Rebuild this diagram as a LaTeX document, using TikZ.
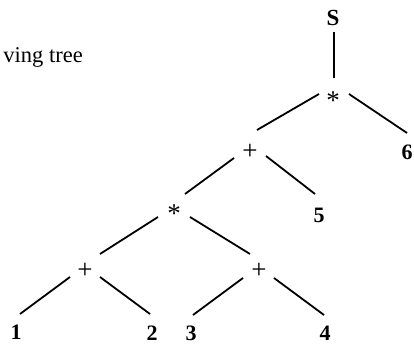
\documentclass[tikz,border=0pt]{standalone}
\usepackage{fontspec}
\setmainfont{Liberation Serif}
\usetikzlibrary{calc}
\tikzset{
  num/.style={inner sep=0pt, font=\fontsize{22}{25}\selectfont\bfseries},
  sym/.style={inner sep=0pt, font=\fontsize{27}{30}\selectfont},
  edge/.style={line width=1.8pt, line cap=butt},
}
\begin{document}
\begin{tikzpicture}[x=1pt,y=1pt]
\useasboundingbox (0,0) rectangle (414,345);
% caption fragment
\node[anchor=base east, inner sep=0pt, font=\fontsize{22.5}{26}\selectfont] (cap) at (83,282) {ving tree};
% nodes
\node[num, font=\fontsize{23}{26}\selectfont\bfseries] (S) at (333,327) {S};
\node[sym] (star1) at (333,244.5) {*};
\node[num] (six) at (407,193) {6};
\node[sym] (plus1) at (250,193) {+};
\node[num] (five) at (319,130) {5};
\node[sym] (star2) at (174,131.5) {*};
\node[sym] (plus2) at (85,74) {+};
\node[sym] (plus3) at (259,74) {+};
\node[num] (one) at (16,13) {1};
\node[num] (two) at (152,12) {2};
\node[num] (three) at (191,12) {3};
\node[num] (four) at (325,12) {4};
% connectors
\draw[edge] ($(S)+(1,-14)$) -- ($(star1)+(1,22.5)$);
\draw[edge] ($(star1)+(-14,6.5)$) -- ($(plus1)+(7,22)$);
\draw[edge] ($(star1)+(16,6.5)$) -- ($(six)+(0,19)$);
\draw[edge] ($(plus1)+(-16,-6)$) -- ($(star2)+(11,19.5)$);
\draw[edge] ($(plus1)+(16,-4)$) -- ($(five)+(-4,21)$);
\draw[edge] ($(star2)+(-16,-3.5)$) -- ($(plus2)+(15,17)$);
\draw[edge] ($(star2)+(16,-3.5)$) -- ($(plus3)+(-9,17)$);
\draw[edge] ($(plus2)+(-15,-6)$) -- ($(one)+(4,18)$);
\draw[edge] ($(plus2)+(15,-6)$) -- ($(two)+(-2,19)$);
\draw[edge] ($(plus3)+(-16,-7)$) -- ($(three)+(2,18)$);
\draw[edge] ($(plus3)+(15,-7)$) -- ($(four)+(-1,18)$);
\end{tikzpicture}
\end{document}
